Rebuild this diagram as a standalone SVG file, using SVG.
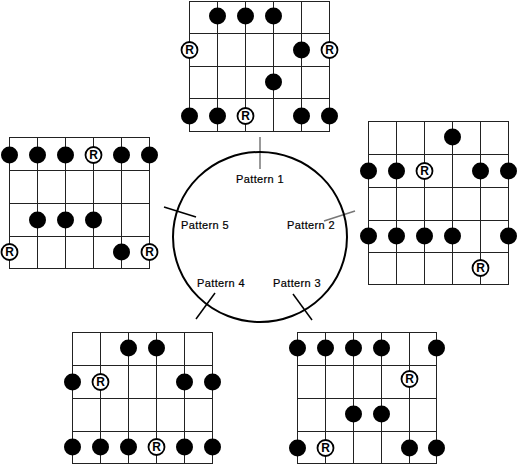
<svg xmlns="http://www.w3.org/2000/svg" width="519" height="466" viewBox="0 0 519 466">
<style>
.grid{fill:none;stroke:#222;stroke-width:1;shape-rendering:crispEdges}
.dot{fill:#000}
.rc{fill:#fff;stroke:#000;stroke-width:1.8}
.rt{font-family:"Liberation Sans",Arial,sans-serif;font-size:12px;font-weight:bold;text-anchor:middle;fill:#000}
.lbl{font-family:"Liberation Sans",Arial,sans-serif;font-size:11px;letter-spacing:0.35px;text-anchor:middle;fill:#000;stroke:#000;stroke-width:0.2}
.tick{stroke:#000;stroke-width:1.5}
.tickg{stroke:#777;stroke-width:1.5}
</style>
<rect width="519" height="466" fill="#fff"/>
<g id="connectors">
<line class="tickg" x1="260" y1="137" x2="260" y2="169"/>
<line class="tickg" x1="324" y1="221" x2="355" y2="211"/>
<line class="tick" x1="164" y1="207" x2="196" y2="217"/>
<line class="tick" x1="215" y1="293" x2="196" y2="319"/>
<line class="tick" x1="293" y1="294" x2="312" y2="320"/>
</g>
<g id="cycle">
<ellipse cx="260" cy="237" rx="87" ry="85" fill="none" stroke="#000" stroke-width="2"/>
<text class="lbl" x="260" y="183">Pattern 1</text>
<text class="lbl" x="311" y="229">Pattern 2</text>
<text class="lbl" x="297" y="287">Pattern 3</text>
<text class="lbl" x="221" y="287">Pattern 4</text>
<text class="lbl" x="205" y="229">Pattern 5</text>
</g>
<g id="pattern1">
<path class="grid" d="M189.5 1V131M217.5 1V131M245.5 1V131M273.5 1V131M301.5 1V131M329.5 1V131M189 1.5H330M189 33.5H330M189 66.5H330M189 98.5H330M189 131.5H330"/>
<circle class="dot" cx="217.5" cy="16" r="8.5"/><circle class="dot" cx="245.5" cy="16" r="8.5"/><circle class="dot" cx="273.5" cy="16" r="8.5"/>
<circle class="rc" cx="189.5" cy="50" r="8"/><text class="rt" x="189.5" y="54.3">R</text>
<circle class="dot" cx="301.5" cy="50" r="8.5"/>
<circle class="rc" cx="329.5" cy="50" r="8"/><text class="rt" x="329.5" y="54.3">R</text>
<circle class="dot" cx="273.5" cy="82" r="8.5"/>
<circle class="dot" cx="189.5" cy="116" r="8.5"/><circle class="dot" cx="217.5" cy="116" r="8.5"/>
<circle class="rc" cx="245.5" cy="116" r="8"/><text class="rt" x="245.5" y="120.3">R</text>
<circle class="dot" cx="301.5" cy="116" r="8.5"/><circle class="dot" cx="329.5" cy="116" r="8.5"/>
</g>
<g id="pattern2">
<path class="grid" d="M368.5 121V285M396.5 121V285M424.5 121V285M452.5 121V285M480.5 121V285M508.5 121V285M368 121.5H509M368 154.5H509M368 187.5H509M368 220.5H509M368 252.5H509M368 284.5H509"/>
<circle class="dot" cx="452.5" cy="137" r="8.5"/>
<circle class="dot" cx="368.5" cy="171" r="8.5"/><circle class="dot" cx="396.5" cy="171" r="8.5"/>
<circle class="rc" cx="424.5" cy="171" r="8"/><text class="rt" x="424.5" y="175.3">R</text>
<circle class="dot" cx="480.5" cy="171" r="8.5"/><circle class="dot" cx="508.5" cy="171" r="8.5"/>
<circle class="dot" cx="368.5" cy="236" r="8.5"/><circle class="dot" cx="396.5" cy="236" r="8.5"/><circle class="dot" cx="424.5" cy="236" r="8.5"/><circle class="dot" cx="452.5" cy="236" r="8.5"/><circle class="dot" cx="508.5" cy="236" r="8.5"/>
<circle class="rc" cx="480.5" cy="268" r="8"/><text class="rt" x="480.5" y="272.3">R</text>
</g>
<g id="pattern3">
<path class="grid" d="M297.5 332V464M325.5 332V464M353.5 332V464M381.5 332V464M409.5 332V464M436.5 332V464M297 332.5H437M297 365.5H437M297 398.5H437M297 431.5H437M297 463.5H437"/>
<circle class="dot" cx="297.5" cy="348" r="8.5"/><circle class="dot" cx="325.5" cy="348" r="8.5"/><circle class="dot" cx="353.5" cy="348" r="8.5"/><circle class="dot" cx="381.5" cy="348" r="8.5"/><circle class="dot" cx="436.5" cy="348" r="8.5"/>
<circle class="rc" cx="409.5" cy="379" r="8"/><text class="rt" x="409.5" y="383.3">R</text>
<circle class="dot" cx="353.5" cy="414" r="8.5"/><circle class="dot" cx="381.5" cy="414" r="8.5"/>
<circle class="dot" cx="297.5" cy="448" r="8.5"/>
<circle class="rc" cx="325.5" cy="448" r="8"/><text class="rt" x="325.5" y="452.3">R</text>
<circle class="dot" cx="409.5" cy="448" r="8.5"/><circle class="dot" cx="436.5" cy="448" r="8.5"/>
</g>
<g id="pattern4">
<path class="grid" d="M72.5 332V464M100.5 332V464M128.5 332V464M156.5 332V464M184.5 332V464M212.5 332V464M72 332.5H213M72 365.5H213M72 398.5H213M72 431.5H213M72 463.5H213"/>
<circle class="dot" cx="128.5" cy="348" r="8.5"/><circle class="dot" cx="156.5" cy="348" r="8.5"/>
<circle class="dot" cx="72.5" cy="382" r="8.5"/>
<circle class="rc" cx="100.5" cy="382" r="8"/><text class="rt" x="100.5" y="386.3">R</text>
<circle class="dot" cx="184.5" cy="382" r="8.5"/><circle class="dot" cx="212.5" cy="382" r="8.5"/>
<circle class="dot" cx="72.5" cy="447" r="8.5"/><circle class="dot" cx="100.5" cy="447" r="8.5"/><circle class="dot" cx="128.5" cy="447" r="8.5"/>
<circle class="rc" cx="156.5" cy="447" r="8"/><text class="rt" x="156.5" y="451.3">R</text>
<circle class="dot" cx="184.5" cy="447" r="8.5"/><circle class="dot" cx="212.5" cy="447" r="8.5"/>
</g>
<g id="pattern5">
<path class="grid" d="M9.5 137V269M37.5 137V269M65.5 137V269M93.5 137V269M121.5 137V269M149.5 137V269M9 137.5H150M9 170.5H150M9 203.5H150M9 236.5H150M9 268.5H150"/>
<circle class="dot" cx="9.5" cy="155" r="8.5"/><circle class="dot" cx="37.5" cy="155" r="8.5"/><circle class="dot" cx="65.5" cy="155" r="8.5"/>
<circle class="rc" cx="93.5" cy="155" r="8"/><text class="rt" x="93.5" y="159.3">R</text>
<circle class="dot" cx="121.5" cy="155" r="8.5"/><circle class="dot" cx="149.5" cy="155" r="8.5"/>
<circle class="dot" cx="37.5" cy="220" r="8.5"/><circle class="dot" cx="65.5" cy="220" r="8.5"/><circle class="dot" cx="93.5" cy="220" r="8.5"/>
<circle class="rc" cx="9.5" cy="252" r="8"/><text class="rt" x="9.5" y="256.3">R</text>
<circle class="dot" cx="121.5" cy="252" r="8.5"/>
<circle class="rc" cx="149.5" cy="252" r="8"/><text class="rt" x="149.5" y="256.3">R</text>
</g>
</svg>
